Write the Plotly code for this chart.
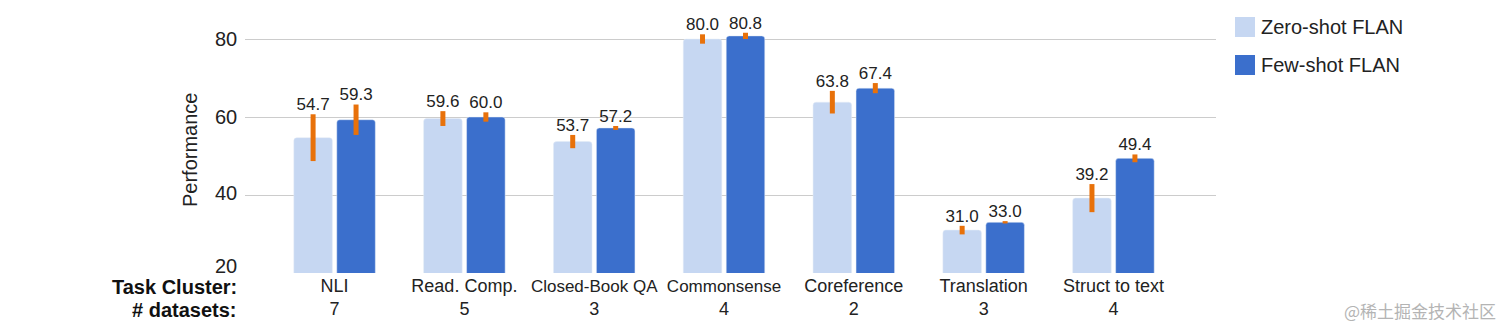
import numpy as np
import plotly.graph_objects as go

# ---- data ----
categories = ["NLI", "Read. Comp.", "Closed-Book QA", "Commonsense", "Coreference", "Translation", "Struct to text"]
num_datasets = [7, 5, 3, 4, 2, 3, 4]
zero_shot = [54.7, 59.6, 53.7, 80.0, 63.8, 31.0, 39.2]
zero_err = [6.0, 1.9, 1.7, 1.2, 2.9, 1.1, 3.6]
few_shot = [59.3, 60.0, 57.2, 80.8, 67.4, 33.0, 49.4]
few_err = [3.9, 1.2, 0.5, 0.8, 1.3, 0.3, 1.0]
y_ticks = [20, 40, 60, 80]
series_names = ["Zero-shot FLAN", "Few-shot FLAN"]

# ---- style ----
LIGHT = "#c6d7f2"
DARK = "#3b6fcc"
ORANGE = "#e8710a"
TXT = "#222222"
FONT = "Liberation Sans, Arial, sans-serif"
W, H = 1512, 333
ML, MR, MT, MB = 245, 296, 0, 60
BAR_W = 0.297
GAP = 0.034
small_font_labels = {"Closed-Book QA", "Commonsense"}

idx = np.arange(len(categories))
off_zero = -GAP / 2 - BAR_W
off_few = GAP / 2

fig = go.Figure()
fig.add_trace(go.Bar(
    x=idx, y=zero_shot, name=series_names[0], marker_color=LIGHT,
    offset=off_zero, width=BAR_W, showlegend=False,
    error_y=dict(type="data", array=zero_err, color=ORANGE, thickness=5, width=0),
))
fig.add_trace(go.Bar(
    x=idx, y=few_shot, name=series_names[1], marker_color=DARK,
    offset=off_few, width=BAR_W, showlegend=False,
    error_y=dict(type="data", array=few_err, color=ORANGE, thickness=5, width=0),
))

# value labels above error bars
for vals, errs, off in [(zero_shot, zero_err, off_zero), (few_shot, few_err, off_few)]:
    fig.add_trace(go.Scatter(
        x=idx + off + BAR_W / 2,
        y=np.array(vals) + np.array(errs),
        mode="text",
        text=[f"{v:.1f}" for v in vals],
        textposition="top center",
        textfont=dict(size=17, color=TXT, family=FONT),
        showlegend=False, hoverinfo="skip",
    ))

def tick_label(c, n):
    if c in small_font_labels:
        return f'<span style="font-size:17px">{c}</span><br>{n}'
    return f"{c}<br>{n}"

ticktext = [tick_label(c, n) for c, n in zip(categories, num_datasets)]

def px_x(p):
    return (p - ML) / (W - ML - MR)

def px_y(p):
    return 1 - (p - MT) / (H - MT - MB)

# y tick labels (the lowest one sits slightly above its gridline, as in the original)
for t in y_ticks:
    fig.add_annotation(xref="paper", yref="y", x=px_x(239), y=t,
                       yshift=7 if t == min(y_ticks) else (2 if t == 40 else 0),
                       text=str(t), showarrow=False, xanchor="right", yanchor="middle",
                       font=dict(size=20, color=TXT, family=FONT))

# legend (manual)
legend_colors = [LIGHT, DARK]
legend_y = [27, 65]
for name, col, yc in zip(series_names, legend_colors, legend_y):
    fig.add_shape(type="rect", xref="paper", yref="paper",
                  x0=px_x(1235), x1=px_x(1255), y0=px_y(yc - 10), y1=px_y(yc + 10),
                  fillcolor=col, line=dict(width=0))
    fig.add_annotation(xref="paper", yref="paper", x=px_x(1259), y=px_y(yc),
                       text=name, showarrow=False, xanchor="left", yanchor="middle",
                       font=dict(size=20, color=TXT, family=FONT))

# left row labels
for label, yc in [("Task Cluster:", 287), ("# datasets:", 310)]:
    fig.add_annotation(xref="paper", yref="paper", x=px_x(239), y=px_y(yc),
                       text=f"<b>{label}</b>", showarrow=False, xanchor="right", yanchor="middle",
                       font=dict(size=20, color="#111111", family=FONT))

# watermark
fig.add_annotation(xref="paper", yref="paper", x=px_x(1498), y=px_y(310),
                   text="@稀土掘金技术社区", showarrow=False, xanchor="right", yanchor="middle",
                   font=dict(size=17, color="#b4b4b4", family="Noto Sans CJK SC"))

fig.update_layout(
    width=W, height=H,
    margin=dict(l=ML, r=MR, t=MT, b=MB),
    paper_bgcolor="white", plot_bgcolor="white",
    barcornerradius=3,
    font=dict(family=FONT, color=TXT),
    xaxis=dict(
        range=[-0.69, 6.79], tickvals=idx, ticktext=ticktext,
        tickfont=dict(size=18, color=TXT, family=FONT),
        showgrid=False, zeroline=False, showline=False, ticks="",
    ),
    yaxis=dict(
        range=[20, 90], tickvals=y_ticks, showticklabels=False,
        showgrid=True, gridcolor="#cccccc", gridwidth=1.3,
        zeroline=False, showline=False, ticks="",
    ),
)
# axis title placed as annotation since tick labels are annotations
fig.add_annotation(xref="paper", yref="paper", x=px_x(190), y=px_y(150),
                   text="Performance", textangle=-90, showarrow=False,
                   xanchor="center", yanchor="middle",
                   font=dict(size=20, color=TXT, family=FONT))

fig.write_html("out.html")
